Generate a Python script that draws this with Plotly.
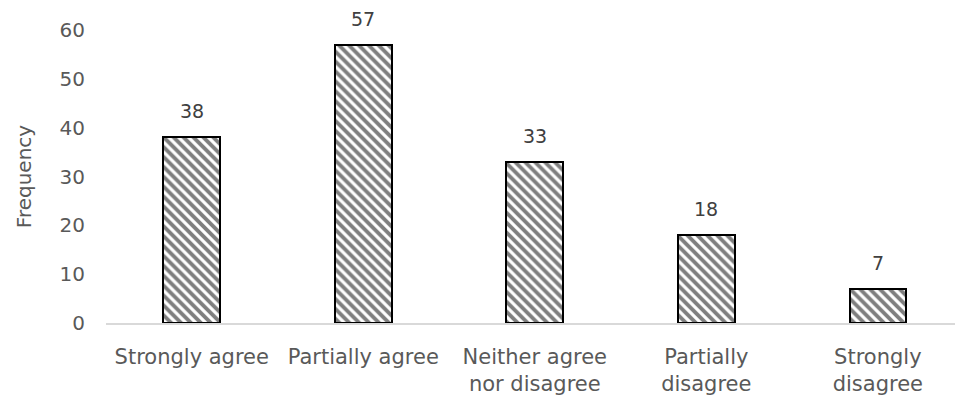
import plotly.graph_objects as go

categories = ["Strongly agree", "Partially agree", "Neither agree<br>nor disagree",
              "Partially<br>disagree", "Strongly<br>disagree"]
frequency = [38, 57, 33, 18, 7]
y_ticks = [0, 10, 20, 30, 40, 50, 60]

FONT = "DejaVu Sans"
x_pos = list(range(len(categories)))

fig = go.Figure()
fig.add_trace(go.Bar(
    x=x_pos,
    y=frequency,
    width=0.33,
    marker=dict(
        color="white",
        line=dict(color="black", width=2),
        pattern=dict(shape="\\", fgcolor="black", bgcolor="white", size=7, solidity=0.55),
    ),
))
for xi, v in zip(x_pos, frequency):
    fig.add_annotation(x=xi, y=v, text=str(v), showarrow=False, yanchor="bottom",
                       yshift=13, font=dict(family=FONT, size=19, color="#404040"))

fig.update_layout(
    width=955, height=401,
    margin=dict(l=106, r=0, t=30, b=78),
    plot_bgcolor="white", paper_bgcolor="white",
    showlegend=False,
    font=dict(family=FONT, size=20, color="#595959"),
    bargap=0,
)
fig.update_xaxes(
    tickmode="array", tickvals=x_pos, ticktext=categories,
    range=[-0.5, 4.45],
    showline=True, linecolor="#d9d9d9", linewidth=1.5,
    showgrid=False, ticks="", ticklabelstandoff=14,
    tickfont=dict(family=FONT, size=21, color="#595959"),
)
fig.update_yaxes(
    range=[0, 60], tickvals=y_ticks, showgrid=False, zeroline=False,
    showline=False, ticks="", ticklabelstandoff=20,
    tickfont=dict(family=FONT, size=20, color="#595959"),
    title=dict(text="Frequency", font=dict(family=FONT, size=20, color="#595959"), standoff=22),
)
fig.write_html("out.html")
